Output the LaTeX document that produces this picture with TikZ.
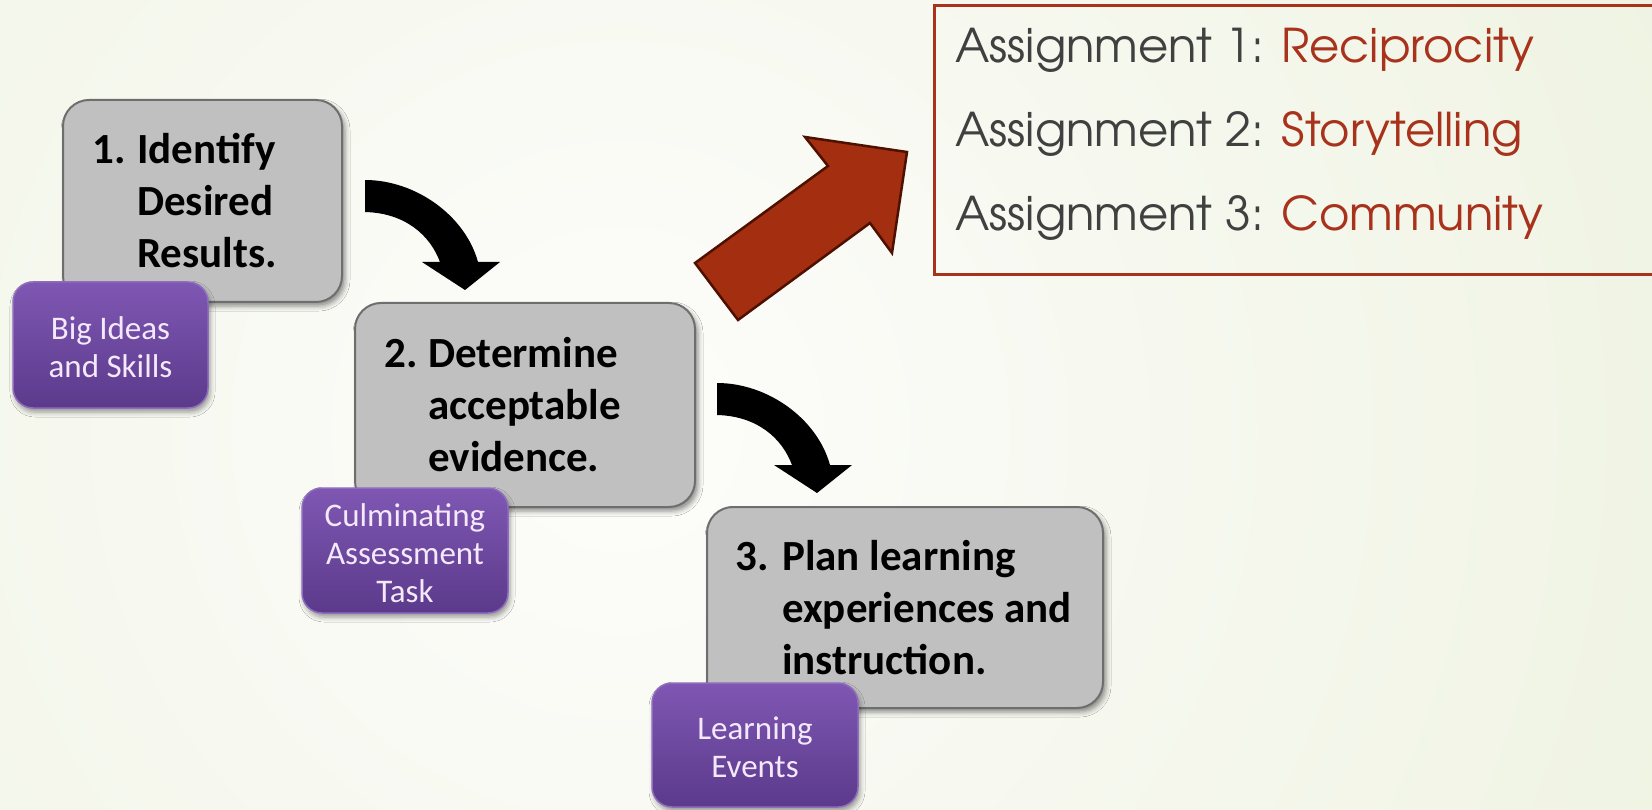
\documentclass[tikz,border=0pt]{standalone}
\usepackage{fontspec}
\setmainfont{Carlito}
\newfontfamily\gothic{texgyreadventor-regular.otf}
\usetikzlibrary{shadows.blur,fit}
\definecolor{bgin}{HTML}{FDFDFB}
\definecolor{bgout}{HTML}{E2EACB}
\definecolor{boxgray}{HTML}{C0C0C0}
\definecolor{boxborder}{HTML}{6E6E6E}
\definecolor{purtop}{HTML}{7F57B3}
\definecolor{purbot}{HTML}{5B3A8B}
\definecolor{purborder}{HTML}{8E6CBE}
\definecolor{purtext}{HTML}{F4E8FB}
\definecolor{asgray}{HTML}{404040}
\definecolor{asred}{HTML}{A8321C}
\definecolor{arrowred}{HTML}{A32E10}
\definecolor{arrowdark}{HTML}{4E1000}
\tikzset{
  graybox/.style={draw=boxborder, line width=2pt, fill=boxgray, rounded corners=26pt, inner sep=0pt,
    blur shadow={shadow xshift=3pt, shadow yshift=-4pt, shadow blur radius=5pt, shadow opacity=45}},
  purplebox/.style={draw=purborder, line width=1.5pt, top color=purtop, bottom color=purbot, rounded corners=20pt, inner sep=0pt,
    blur shadow={shadow xshift=2pt, shadow yshift=-4pt, shadow blur radius=5pt, shadow opacity=40}},
  steptext/.style={font=\fontsize{43}{52}\selectfont\bfseries, anchor=base west, inner sep=0pt, text=black},
  purtextstyle/.style={font=\fontsize{33}{38}\selectfont, align=center, text=purtext, inner sep=0pt},
  asline/.style={font=\gothic\fontsize{46.5}{54}\selectfont, anchor=base west, inner sep=0pt, text=asgray},
  curvearrow/.pic={
    \fill[black] (0,0) .. controls (50,0) and (100,35) .. (113,82) -- (135,82) -- (100,110) -- (57,82) -- (75,82)
      .. controls (65,55) and (40,33) .. (0,32) -- cycle;
  }
}
\begin{document}
\begin{tikzpicture}[x=1pt,y=-1pt]
\useasboundingbox (0,0) rectangle (1652,810);
\begin{scope}
\clip (0,0) rectangle (1652,810);
\fill[bgout] (0,0) rectangle (1652,810);
\shade[inner color=bgin, outer color=bgout] (620,430) circle (2200pt);
\end{scope}

% step 1
\node[graybox, fit={(63,100) (342,302)}] (b1) {};
\node[steptext] (b1n) at (92,164) {1.};
\node[steptext] (b1a) at (137,164) {Identify};
\node[steptext] (b1b) at (137,216) {Desired};
\node[steptext] (b1c) at (137,268) {Results.};
\node[purplebox, fit={(13,282) (208,408)}] (p1) {};
\node[purtextstyle] (p1t) at ([yshift=-2pt]p1.center) {Big Ideas\\and Skills};

\pic (a1) at (365,180) {curvearrow};

% step 2
\node[graybox, fit={(355,303) (695,507)}] (b2) {};
\node[steptext] (b2n) at (384,367) {2.};
\node[steptext] (b2a) at (428,367) {Determine};
\node[steptext] (b2b) at (428,419) {acceptable};
\node[steptext] (b2c) at (428,471) {evidence.};
\node[purplebox, fit={(302,488) (508,613)}] (p2) {};
\node[purtextstyle] (p2t) at ([yshift=-3pt]p2.center) {Culminating\\Assessment\\Task};

\pic (a2) at (717,383) {curvearrow};

% step 3
\node[graybox, fit={(707,507) (1103,708)}] (b3) {};
\node[steptext] (b3n) at (735,570) {3.};
\node[steptext] (b3a) at (782,570) {Plan learning};
\node[steptext] (b3b) at (782,622) {experiences and};
\node[steptext] (b3c) at (782,674) {instruction.};
\node[purplebox, fit={(652,683) (858,807)}] (p3) {};
\node[purtextstyle] (p3t) at ([yshift=-2pt]p3.center) {Learning\\Events};

% red arrow
\draw[fill=arrowred, draw=arrowdark, line width=2.5pt, line join=miter]
  (695,263) -- (738,320) -- (870,223) -- (892,253) -- (907,152) -- (805,137) -- (828,166) -- cycle;

% assignments box
\node[draw=asred, line width=3pt, inner sep=0pt, fit={(934,6) (1700,275)}] (asbox) {};
\node[asline] (as1) at (955,63) {Assignment 1: \textcolor{asred}{Reciprocity}};
\node[asline] (as2) at (955,147) {Assignment 2: \textcolor{asred}{Storytelling}};
\node[asline] (as3) at (955,231) {Assignment 3: \textcolor{asred}{Community}};
\end{tikzpicture}
\end{document}
